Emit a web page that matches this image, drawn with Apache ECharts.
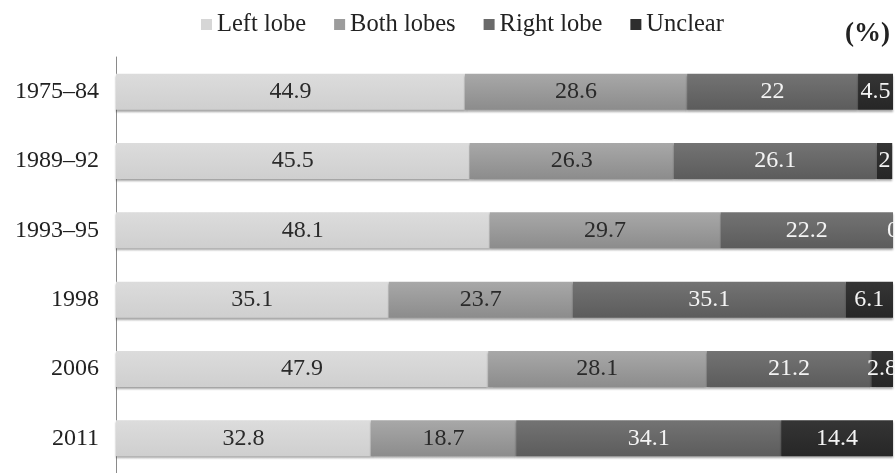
<!DOCTYPE html>
<html>
<head>
<meta charset="utf-8">
<script src="https://cdn.jsdelivr.net/npm/echarts@6/dist/echarts.min.js"></script>
<style>
  html, body { margin: 0; padding: 0; background: #fff; }
  #chart { width: 895px; height: 473px; }
</style>
</head>
<body>
<div id="chart"></div>
<script>
// Lesion side by survey period, in percent
const periods = ['1975\u201384', '1989\u201392', '1993\u201395', '1998', '2006', '2011'];
const leftLobe  = [44.9, 45.5, 48.1, 35.1, 47.9, 32.8];
const bothLobes = [28.6, 26.3, 29.7, 23.7, 28.1, 18.7];
const rightLobe = [22.0, 26.1, 22.2, 35.1, 21.2, 34.1];
const unclear   = [4.5, 2.0, 0.0, 6.1, 2.8, 14.4];

const FONT = '"Liberation Serif", "DejaVu Serif", serif';

function shade(top, bottom) {
  return new echarts.graphic.LinearGradient(0, 0, 0, 1, [
    { offset: 0, color: top },
    { offset: 1, color: bottom }
  ]);
}

function makeSeries(name, data, top, bottom, labelColor) {
  return {
    name: name,
    type: 'bar',
    stack: 'total',
    barWidth: '52%',
    data: data,
    itemStyle: {
      color: shade(top, bottom),
      shadowColor: 'rgba(0,0,0,0.35)',
      shadowBlur: 2,
      shadowOffsetY: 2
    },
    label: {
      show: true,
      position: 'inside',
      color: labelColor,
      fontFamily: FONT,
      fontSize: 24,
      formatter: p => String(p.value)
    }
  };
}

const chart = echarts.init(document.getElementById('chart'), null, { renderer: 'canvas' });
chart.setOption({
  animation: false,
  backgroundColor: '#ffffff',
  color: ['#d6d6d6', '#9c9c9c', '#6a6a6a', '#2e2e2e'],
  legend: {
    top: 12,
    left: 201,
    padding: 0,
    itemWidth: 11,
    itemHeight: 11,
    itemGap: 28,
    icon: 'rect',
    textStyle: { fontFamily: FONT, fontSize: 24.5, color: '#222' },
    data: [
      { name: 'Left lobe', itemStyle: { color: '#d6d6d6' } },
      { name: 'Both lobes', itemStyle: { color: '#9c9c9c' } },
      { name: 'Right lobe', itemStyle: { color: '#6a6a6a' } },
      { name: 'Unclear', itemStyle: { color: '#2e2e2e' } }
    ]
  },
  graphic: [{
    type: 'text',
    right: 5,
    top: 21,
    style: { text: '(%)', fontFamily: FONT, fontSize: 27, fontWeight: 'bold', fill: '#222' }
  }],
  grid: { left: 116, top: 57, width: 777, height: 426, containLabel: false },
  xAxis: {
    type: 'value',
    min: 0,
    max: 100,
    show: false
  },
  yAxis: {
    type: 'category',
    data: periods,
    inverse: true,
    axisLine: { show: true, lineStyle: { color: '#8a8a8a', width: 1 } },
    axisTick: { show: false },
    axisLabel: { fontFamily: FONT, fontSize: 24, color: '#222', margin: 17 },
    splitLine: { show: false }
  },
  series: [
    makeSeries('Left lobe', leftLobe, '#dcdcdc', '#cfcfcf', '#2a2a2a'),
    makeSeries('Both lobes', bothLobes, '#a8a8a8', '#8c8c8c', '#2a2a2a'),
    makeSeries('Right lobe', rightLobe, '#737373', '#5c5c5c', '#f4f4f4'),
    makeSeries('Unclear', unclear, '#353535', '#262626', '#f4f4f4')
  ]
});
</script>
</body>
</html>
